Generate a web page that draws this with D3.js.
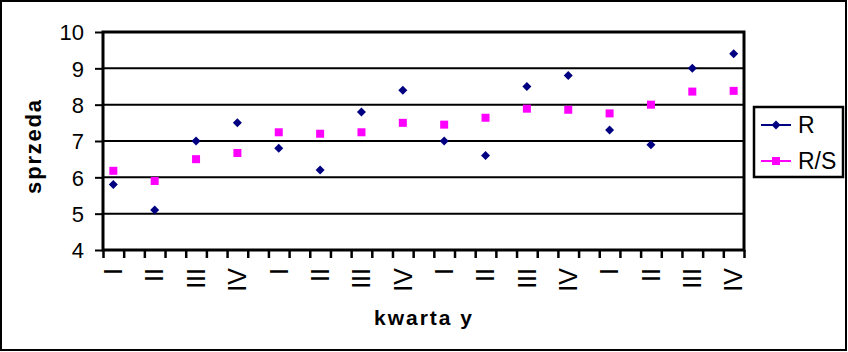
<!DOCTYPE html>
<html>
<head>
<meta charset="utf-8">
<script src="https://cdn.jsdelivr.net/npm/d3@7"></script>
<style>
  html, body { margin: 0; padding: 0; background: #fff; }
  svg { display: block; font-family: "Liberation Sans", Arial, sans-serif; }
</style>
</head>
<body>
<svg id="chart" width="848" height="352"></svg>
<script>
// ---- data ----
const categories = ["I","II","III","IV","I","II","III","IV","I","II","III","IV","I","II","III","IV"];
const seriesR  = [5.8, 5.1, 7.0, 7.5, 6.8, 6.2, 7.8, 8.4, 7.0, 6.6, 8.5, 8.8, 7.3, 6.9, 9.0, 9.4];
const seriesRS = [6.18, 5.9, 6.5, 6.67, 7.24, 7.2, 7.24, 7.5, 7.45, 7.64, 7.89, 7.86, 7.76, 8.0, 8.36, 8.38];
const yTicks = [4, 5, 6, 7, 8, 9, 10];
const seriesNames = ["R", "R/S"];
const seriesColors = ["#000080", "#FF00FF"];
const xTitle = "kwarta y";
const yTitle = "sprzeda";

// ---- layout ----
const svg = d3.select("#chart");
const W = 848, H = 352;
const plot = { left: 103, right: 744, top: 32, bottom: 250 };

// outer border
svg.append("rect").attr("x", 1).attr("y", 1).attr("width", W - 3).attr("height", H - 3)
  .attr("fill", "#fff").attr("stroke", "#000").attr("stroke-width", 2);

// x: each category occupies two slots (31 slots), points at even slots
const nSlots = categories.length * 2 - 1;
const x = d3.scaleLinear().domain([0, nSlots]).range([plot.left, plot.right]);
const xPos = i => x(2 * i + 0.5);
const y = d3.scaleLinear().domain([4, 10]).range([plot.bottom, plot.top]);

// gridlines
svg.append("g").selectAll("line").data(yTicks.filter(t => t > 4 && t < 10)).join("line")
  .attr("x1", plot.left).attr("x2", plot.right)
  .attr("y1", d => y(d)).attr("y2", d => y(d))
  .attr("stroke", "#000").attr("stroke-width", 2);

// plot border
svg.append("rect").attr("x", plot.left).attr("y", plot.top)
  .attr("width", plot.right - plot.left).attr("height", plot.bottom - plot.top)
  .attr("fill", "none").attr("stroke", "#000").attr("stroke-width", 3);

// y axis
const yAxis = d3.axisLeft(y).tickValues(yTicks).tickSize(8).tickPadding(11).tickFormat(d3.format("d"));
const gy = svg.append("g").attr("transform", `translate(${plot.left},0)`).call(yAxis);
gy.select(".domain").remove();
gy.selectAll(".tick line").attr("stroke", "#000").attr("stroke-width", 2);
gy.selectAll(".tick text").attr("font-size", 22).attr("fill", "#000")
  .attr("font-family", "Liberation Sans, Arial, sans-serif").attr("dy", "0.36em");

// x axis ticks
const gx = svg.append("g").attr("transform", `translate(0,${plot.bottom})`)
  .call(d3.axisBottom(x).tickValues(d3.range(0, nSlots + 1)).tickSize(8).tickFormat(""));
gx.select(".domain").remove();
gx.selectAll(".tick line").attr("stroke", "#000").attr("stroke-width", 2.5);

// x labels (rotated)
svg.append("g").selectAll("text").data(categories).join("text")
  .attr("transform", (d, i) => `translate(${xPos(i)},${plot.bottom + 18}) rotate(-90)`)
  .attr("text-anchor", "end").attr("dy", "0.35em")
  .attr("font-size", 25).attr("fill", "#000")
  .text(d => d);

// axis titles
svg.append("text").attr("x", 424).attr("y", 325).attr("text-anchor", "middle")
  .attr("font-size", 21).attr("font-weight", "bold").attr("letter-spacing", 2)
  .text(xTitle);
svg.append("text").attr("transform", "translate(41,146) rotate(-90)").attr("text-anchor", "middle")
  .attr("font-size", 22).attr("font-weight", "bold").attr("letter-spacing", 1.8)
  .text(yTitle);

// markers
const diamond = (cx, cy, r) => `M${cx},${cy - r}L${cx + r},${cy}L${cx},${cy + r}L${cx - r},${cy}Z`;
svg.append("g").selectAll("path").data(seriesR).join("path")
  .attr("d", (d, i) => diamond(xPos(i), y(d), 4.5))
  .attr("fill", seriesColors[0]);
svg.append("g").selectAll("rect").data(seriesRS).join("rect")
  .attr("x", (d, i) => xPos(i) - 4).attr("y", d => y(d) - 4)
  .attr("width", 8).attr("height", 8)
  .attr("fill", seriesColors[1]);

// legend
const lg = svg.append("g");
lg.append("rect").attr("x", 754).attr("y", 107).attr("width", 89).attr("height", 70)
  .attr("fill", "#fff").attr("stroke", "#000").attr("stroke-width", 2.5);
const legY = [125, 161];
seriesNames.forEach((name, k) => {
  lg.append("line").attr("x1", 761).attr("x2", 791).attr("y1", legY[k]).attr("y2", legY[k])
    .attr("stroke", seriesColors[k]).attr("stroke-width", 2);
  if (k === 0) {
    lg.append("path").attr("d", diamond(776, legY[k], 4.5)).attr("fill", seriesColors[k]);
  } else {
    lg.append("rect").attr("x", 772).attr("y", legY[k] - 4).attr("width", 8).attr("height", 8)
      .attr("fill", seriesColors[k]);
  }
  lg.append("text").attr("x", 798).attr("y", legY[k]).attr("dy", "0.36em")
    .attr("font-size", 23).attr("fill", "#000").text(name);
});
</script>
</body>
</html>
